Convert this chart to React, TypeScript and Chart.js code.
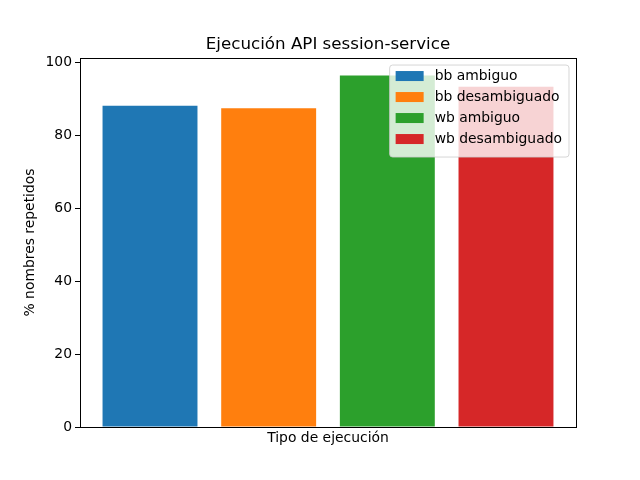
import React, { useEffect, useRef } from 'react';
import { Chart, registerables } from 'chart.js';

Chart.register(...registerables);

const chartTitle = 'Ejecución API session-service';
const xTitle = 'Tipo de ejecución';
const yTitle = '% nombres repetidos';
const categories = ['bb ambiguo', 'bb desambiguado', 'wb ambiguo', 'wb desambiguado'];
const values = [88.1, 87.4, 96.4, 93.3];
const colors = ['#1f77b4', '#ff7f0e', '#2ca02c', '#d62728'];
const positions = [0, 1, 2, 3];
const yMax = 101.2;
const yStep = 20;
const xMin = -0.59;
const xMax = 3.59;

const FONT = 'DejaVu Sans';

const framePlugin = {
  id: 'frame',
  afterDatasetsDraw(chart: any) {
    const { ctx, chartArea } = chart;
    ctx.save();
    ctx.strokeStyle = '#000';
    ctx.lineWidth = 1;
    ctx.strokeRect(
      Math.round(chartArea.left) + 0.5,
      Math.round(chartArea.top) + 0.5,
      Math.round(chartArea.right - chartArea.left),
      Math.round(chartArea.bottom - chartArea.top)
    );
    ctx.restore();
  },
};

const legendPlugin = {
  id: 'mplLegend',
  afterDraw(chart: any) {
    const { ctx, chartArea } = chart;
    const ds = chart.data.datasets;
    ctx.save();
    ctx.font = `13.9px "${FONT}"`;
    let maxW = 0;
    ds.forEach((d: any) => {
      maxW = Math.max(maxW, ctx.measureText(d.label).width);
    });
    const rowH = 21;
    const w = 45 + maxW + 7;
    const h = 8 + ds.length * rowH;
    const right = chartArea.right - 7;
    const left = right - w;
    const top = chartArea.top + 7;
    const r = 3;
    ctx.beginPath();
    ctx.moveTo(left + r, top);
    ctx.lineTo(left + w - r, top);
    ctx.quadraticCurveTo(left + w, top, left + w, top + r);
    ctx.lineTo(left + w, top + h - r);
    ctx.quadraticCurveTo(left + w, top + h, left + w - r, top + h);
    ctx.lineTo(left + r, top + h);
    ctx.quadraticCurveTo(left, top + h, left, top + h - r);
    ctx.lineTo(left, top + r);
    ctx.quadraticCurveTo(left, top, left + r, top);
    ctx.closePath();
    ctx.fillStyle = 'rgba(255,255,255,0.8)';
    ctx.fill();
    ctx.strokeStyle = 'rgba(204,204,204,0.8)';
    ctx.lineWidth = 1;
    ctx.stroke();
    ds.forEach((d: any, i: number) => {
      const cy = top + 11 + i * rowH;
      ctx.fillStyle = d.backgroundColor;
      ctx.fillRect(left + 6, cy - 5, 28, 10);
      ctx.fillStyle = '#000';
      ctx.textBaseline = 'middle';
      ctx.textAlign = 'left';
      ctx.fillText(d.label, left + 45, cy);
    });
    ctx.restore();
  },
};

export default function App() {
  const ref = useRef<HTMLCanvasElement>(null);
  useEffect(() => {
    if (!ref.current) return;
    Chart.defaults.font.family = FONT;
    Chart.defaults.color = '#000';
    const chart = new Chart(ref.current, {
      type: 'bar',
      data: {
        datasets: categories.map((c, i) => ({
          label: c,
          data: [{ x: positions[i], y: values[i] }],
          backgroundColor: colors[i],
          borderWidth: 0,
          grouped: false,
          barPercentage: 0.8,
          categoryPercentage: 1,
        })),
      },
      options: {
        responsive: false,
        animation: false,
        layout: { padding: { left: 0, right: 64, top: 0, bottom: 0 } },
        plugins: {
          legend: { display: false },
          tooltip: { enabled: false },
          title: {
            display: true,
            fullSize: false,
            text: chartTitle,
            color: '#000',
            font: { size: 16.7, weight: 'normal', family: FONT },
            padding: { top: 35, bottom: 3 },
          },
        },
        scales: {
          x: {
            type: 'linear',
            min: xMin,
            max: xMax,
            offset: false,
            afterBuildTicks: (scale: any) => {
              scale.ticks = positions.map((v) => ({ value: v }));
            },
            afterFit: (scale: any) => {
              scale.height = 53;
            },
            ticks: { display: false },
            grid: { display: false, offset: false },
            border: { display: false },
            title: {
              display: true,
              text: xTitle,
              color: '#000',
              font: { size: 13.9, family: FONT },
              padding: { top: 4, bottom: 33 },
            },
          },
          y: {
            min: 0,
            max: yMax,
            afterFit: (scale: any) => {
              scale.width = 80;
            },
            ticks: {
              stepSize: yStep,
              includeBounds: false,
              padding: 3,
              color: '#000',
              font: { size: 13.9, family: FONT },
            },
            grid: {
              drawOnChartArea: false,
              drawTicks: true,
              tickLength: 5,
              color: '#000',
            },
            border: { display: false },
            title: {
              display: true,
              text: yTitle,
              color: '#000',
              font: { size: 13.9, family: FONT },
              padding: { top: 22, bottom: 0 },
            },
          },
        },
      },
      plugins: [framePlugin, legendPlugin],
    } as any);
    return () => chart.destroy();
  }, []);
  return (
    <div style={{ position: 'absolute', left: 0, top: 0, width: 640, height: 480, background: '#fff' }}>
      <canvas ref={ref} width={640} height={480} />
    </div>
  );
}
